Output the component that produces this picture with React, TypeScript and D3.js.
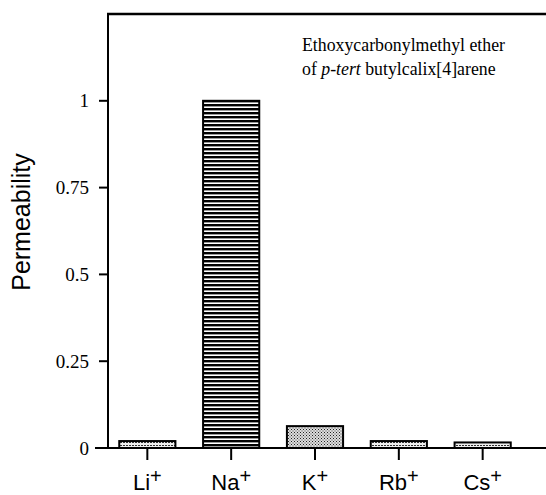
import React from 'react';
import * as d3 from 'd3';

const ions = ['Li', 'Na', 'K', 'Rb', 'Cs'];
const permeability = [0.02, 1.0, 0.063, 0.02, 0.016];
const fills = ['hatch', 'stripes', 'stipple', 'hatch', 'hatch'];
const yTicks = [0, 0.25, 0.5, 0.75, 1];
const yTickLabels = ['0', '0.25', '0.5', '0.75', '1'];

const W = 546;
const H = 495;
const margin = { top: 14, right: 0, bottom: 47, left: 108 };
const serif = "'Liberation Serif', 'Times New Roman', serif";
const sans = "'Liberation Sans', Arial, sans-serif";

export default function App() {
  const y = d3.scaleLinear().domain([0, 1.25]).range([H - margin.bottom, margin.top]);
  const x = d3.scaleBand().domain(ions).range([105, 525]).paddingInner(0.33).paddingOuter(0.17);
  const y0 = y(0);

  return (
    <svg width={W} height={H} style={{ position: 'absolute', left: 0, top: 0 }}>
      <defs>
        <pattern id="stripes" width="4" height="4" patternUnits="userSpaceOnUse">
          <rect width="4" height="4" fill="#fff" />
          <rect width="4" height="2.4" fill="#000" />
        </pattern>
        <pattern id="stipple" width="3" height="3" patternUnits="userSpaceOnUse">
          <rect width="3" height="3" fill="#ddd" />
          <rect x="0" y="0" width="1" height="1" fill="#222" />
          <rect x="1.5" y="1.5" width="1" height="1" fill="#444" />
        </pattern>
        <pattern id="hatch" width="3" height="3" patternUnits="userSpaceOnUse">
          <rect width="3" height="3" fill="#eee" />
          <rect x="0" y="1" width="2" height="1" fill="#333" />
        </pattern>
      </defs>

      {/* frame top */}
      <line x1={margin.left - 1} x2={W} y1={margin.top} y2={margin.top} stroke="#000" strokeWidth={2.5} />
      {/* y axis */}
      <line x1={margin.left} x2={margin.left} y1={margin.top} y2={y0} stroke="#000" strokeWidth={2} />
      {yTicks.map((t, i) => (
        <g key={t}>
          <line x1={margin.left - 9} x2={margin.left} y1={y(t)} y2={y(t)} stroke="#000" strokeWidth={2} />
          <text x={89} y={y(t)} dy="0.35em" textAnchor="end" fontFamily={serif} fontSize={19}>{yTickLabels[i]}</text>
        </g>
      ))}
      <text transform="translate(30,222) rotate(-90)" textAnchor="middle" fontFamily={sans} fontSize={25}>Permeability</text>

      {/* bars */}
      {ions.map((ion, i) => (
        <rect key={ion} x={x(ion)} y={y(permeability[i])} width={x.bandwidth()}
          height={y0 - y(permeability[i])} fill={`url(#${fills[i]})`} stroke="#000" strokeWidth={2} />
      ))}

      {/* x axis */}
      <line x1={95} x2={W} y1={y0} y2={y0} stroke="#000" strokeWidth={2} />
      {ions.map((ion) => {
        const cx = (x(ion) as number) + x.bandwidth() / 2;
        return (
          <g key={ion}>
            <line x1={cx} x2={cx} y1={y0} y2={y0 + 12} stroke="#000" strokeWidth={2} />
            <text x={cx} y={490} textAnchor="middle" fontFamily={sans} fontSize={22}>
              {ion}<tspan dy={-7} fontSize={20}>+</tspan>
            </text>
          </g>
        );
      })}

      <text x={302} y={51} fontFamily={serif} fontSize={17.8}>Ethoxycarbonylmethyl ether</text>
      <text x={302} y={75} fontFamily={serif} fontSize={17.8}>
        of <tspan fontStyle="italic">p-tert</tspan> butylcalix[4]arene
      </text>
    </svg>
  );
}
